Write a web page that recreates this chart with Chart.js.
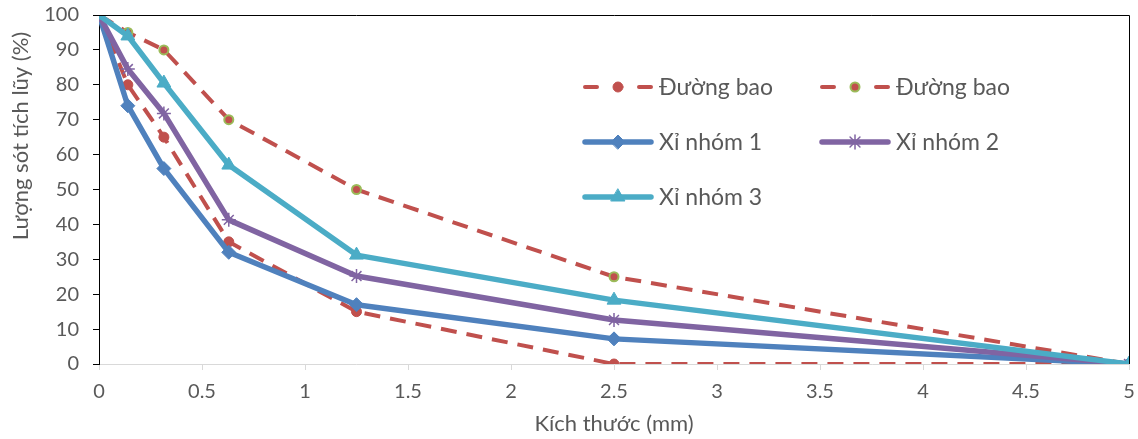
<!DOCTYPE html>
<html>
<head>
<meta charset="utf-8">
<script src="https://cdn.jsdelivr.net/npm/chart.js@4.4.1/dist/chart.umd.min.js"></script>
<style>
  html, body { margin: 0; padding: 0; background: #fff; }
  canvas { display: block; }
</style>
</head>
<body>
<canvas id="sieveChart" width="1138" height="439"></canvas>
<script>
// sieve sizes (mm) and cumulative retained (%)
const sizes = [0, 0.14, 0.315, 0.63, 1.25, 2.5, 5];
const lowerBound = [100, 80, 65, 35, 15, 0, 0];
const upperBound = [100, 95, 90, 70, 50, 25, 0];
const slag1 = [100, 74, 56, 32, 17, 7.2, 0];
const slag2 = [100, 84.5, 71.8, 41.3, 25.2, 12.6, 0];
const slag3 = [100, 94, 80.5, 57, 31.2, 18.3, 0];

const xTicks = [0, 0.5, 1, 1.5, 2, 2.5, 3, 3.5, 4, 4.5, 5];
const yTicks = [0, 10, 20, 30, 40, 50, 60, 70, 80, 90, 100];

const RED = '#c0504d', GREEN = '#9bbb59', BLUE = '#4f81bd', PURPLE = '#8064a2', CYAN = '#4bacc6';
const TEXT = '#595959';
const FONT = 'Lato';

const toPoints = ys => sizes.map((x, i) => ({ x, y: ys[i] }));

// legend slots: [column, row]
const legendSlots = {
  lower: [0, 0], upper: [1, 0], s1: [0, 1], s2: [1, 1], s3: [0, 2]
};

// later entries drawn on top
const datasets = [
  { key: 's3', label: 'Xỉ nhóm 3', data: toPoints(slag3), borderColor: CYAN, backgroundColor: CYAN,
    borderWidth: 5.5, pointStyle: 'triangle', pointRadius: 8, pointBorderWidth: 1 },
  { key: 's2', label: 'Xỉ nhóm 2', data: toPoints(slag2), borderColor: PURPLE, backgroundColor: PURPLE,
    borderWidth: 5.5, pointStyle: 'star', pointRadius: 7, pointBorderWidth: 1.5 },
  { key: 's1', label: 'Xỉ nhóm 1', data: toPoints(slag1), borderColor: BLUE, backgroundColor: BLUE,
    borderWidth: 5.5, pointStyle: 'rectRot', pointRadius: 7, pointBorderWidth: 1 },
  { key: 'upper', label: 'Đường bao', data: toPoints(upperBound), borderColor: RED, backgroundColor: RED,
    borderWidth: 4, borderDash: [16, 10], pointStyle: 'circle', pointRadius: 4.5,
    pointBorderColor: GREEN, pointBorderWidth: 2 },
  { key: 'lower', label: 'Đường bao', data: toPoints(lowerBound), borderColor: RED, backgroundColor: RED,
    borderWidth: 4, borderDash: [16, 10], pointStyle: 'circle', pointRadius: 5,
    pointBorderColor: RED, pointBorderWidth: 1 }
];
datasets.forEach(d => { d.tension = 0; d.fill = false; d.borderCapStyle = 'butt'; d.borderJoinStyle = 'round'; });

// top + right frame lines, y-axis title, and the in-plot legend
const extras = {
  id: 'extras',
  afterDraw(chart) {
    const { ctx, chartArea: a } = chart;
    ctx.save();
    ctx.strokeStyle = '#000';
    ctx.lineWidth = 1;
    ctx.beginPath();
    ctx.moveTo(a.left, a.top + 0.5);
    ctx.lineTo(a.right + 0.5, a.top + 0.5);
    ctx.lineTo(a.right + 0.5, a.bottom);
    ctx.stroke();

    ctx.fillStyle = TEXT;
    ctx.font = '22px ' + FONT;
    ctx.textAlign = 'center';
    ctx.textBaseline = 'middle';
    ctx.translate(21, 136);
    ctx.rotate(-Math.PI / 2);
    ctx.fillText('Lượng sót tích lũy (%)', 0, 0);
    ctx.restore();

    const colX = [583, 820], rowY = [87, 142, 197], sampleW = 70;
    ctx.save();
    ctx.font = '23px ' + FONT;
    ctx.textBaseline = 'middle';
    ctx.textAlign = 'left';
    datasets.forEach(d => {
      const [c, r] = legendSlots[d.key];
      const x0 = colX[c], y = rowY[r];
      ctx.save();
      ctx.strokeStyle = d.borderColor;
      ctx.lineWidth = d.borderWidth;
      ctx.lineCap = 'round';
      ctx.beginPath();
      if (d.borderDash) {
        ctx.moveTo(x0 + 2, y); ctx.lineTo(x0 + 14, y);
        ctx.moveTo(x0 + sampleW - 14, y); ctx.lineTo(x0 + sampleW - 2, y);
      } else {
        ctx.moveTo(x0 + 2, y); ctx.lineTo(x0 + sampleW - 2, y);
      }
      ctx.stroke();
      ctx.fillStyle = d.backgroundColor;
      ctx.strokeStyle = d.pointBorderColor || d.borderColor;
      ctx.lineWidth = d.pointBorderWidth;
      Chart.helpers.drawPoint(ctx, { pointStyle: d.pointStyle, radius: d.pointRadius, borderWidth: d.pointBorderWidth },
        x0 + sampleW / 2, y);
      ctx.restore();
      ctx.fillStyle = TEXT;
      ctx.fillText(d.label, x0 + sampleW + 6, y + 1);
    });
    ctx.restore();
  }
};

new Chart(document.getElementById('sieveChart'), {
  type: 'line',
  data: { datasets },
  options: {
    responsive: false,
    devicePixelRatio: 1,
    animation: false,
    events: [],
    layout: { padding: { top: 15, right: 8, left: 0, bottom: 0 } },
    plugins: { legend: { display: false }, tooltip: { enabled: false } },
    scales: {
      x: {
        type: 'linear', min: 0, max: 5,
        afterBuildTicks: s => { s.ticks = xTicks.map(v => ({ value: v })); },
        afterFit: s => { s.height = 75; s.paddingLeft = 0; s.paddingRight = 0; },
        border: { color: '#d9d9d9', width: 1 },
        grid: { drawOnChartArea: false, drawTicks: true, tickLength: 6, color: '#d9d9d9' },
        ticks: { color: TEXT, font: { family: FONT, size: 20 }, padding: 10, maxRotation: 0,
                 callback: v => String(v) },
        title: { display: true, text: 'Kích thước (mm)', color: TEXT,
                 font: { family: FONT, size: 22 }, padding: { top: 0, bottom: 2 } }
      },
      y: {
        type: 'linear', min: 0, max: 100,
        afterBuildTicks: s => { s.ticks = yTicks.map(v => ({ value: v })); },
        afterFit: s => { s.width = 99; s.paddingTop = 0; s.paddingBottom = 0; },
        border: { color: '#000', width: 1 },
        grid: { drawOnChartArea: false, drawTicks: true, tickLength: 6, color: '#000' },
        ticks: { color: TEXT, font: { family: FONT, size: 20 }, padding: 14 }
      }
    }
  },
  plugins: [extras]
});
</script>
</body>
</html>
